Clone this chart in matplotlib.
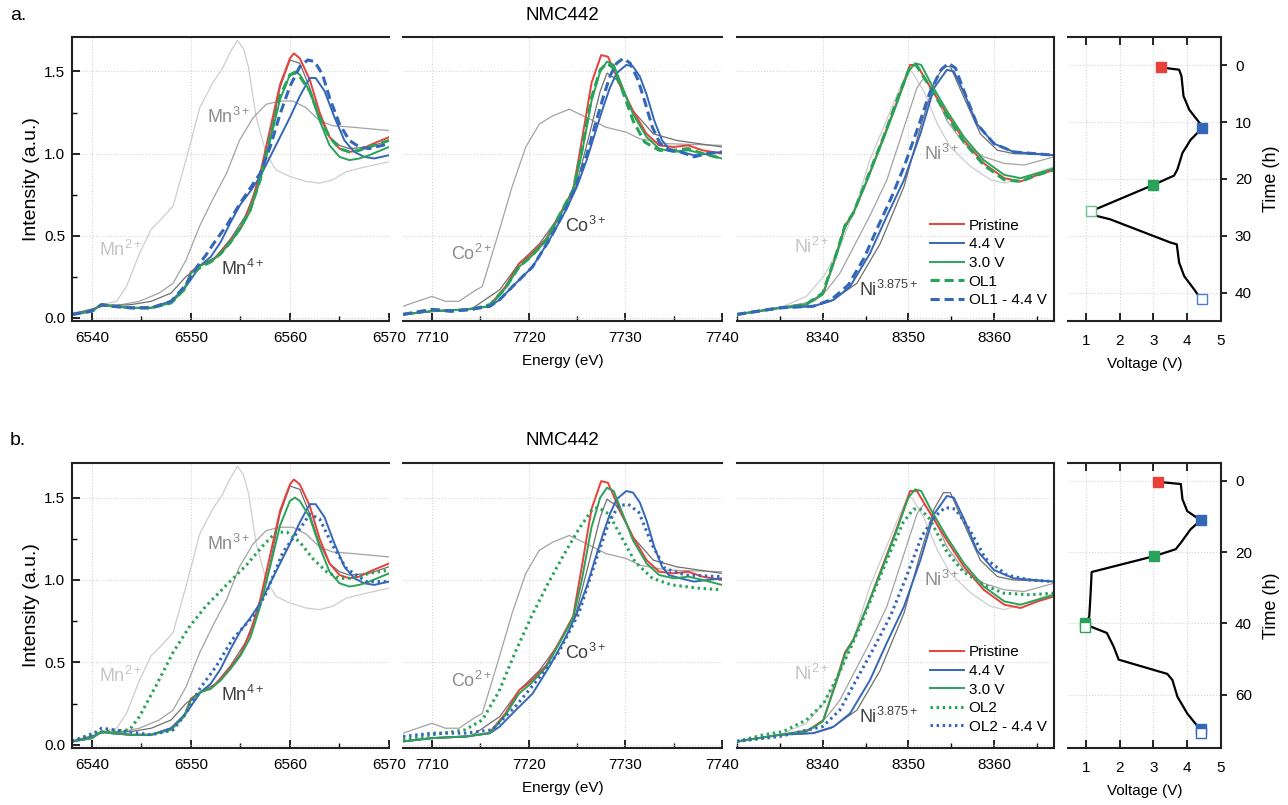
import matplotlib.pyplot as plt
from matplotlib.ticker import MultipleLocator

plt.rcParams['font.family'] = ['Liberation Sans', 'DejaVu Sans']
plt.rcParams['mathtext.fontset'] = 'custom'
plt.rcParams['mathtext.rm'] = 'Liberation Sans'
plt.rcParams['mathtext.it'] = 'Liberation Sans'

# ---------------- Mn K-edge (energy eV, intensity) ----------------
mn_ref2 = [(6538, 0.03), (6540, 0.05), (6541, 0.08), (6542.5, 0.10), (6543.5, 0.19), (6544.8, 0.39),
           (6546, 0.54), (6547, 0.60), (6548.2, 0.68), (6549.5, 0.96), (6550.9, 1.28), (6552.2, 1.43),
           (6553.2, 1.52), (6553.9, 1.61), (6554.7, 1.69), (6555.3, 1.64), (6555.8, 1.53), (6556.6, 1.22),
           (6557.6, 1.00), (6558.6, 0.90), (6560, 0.86), (6561.6, 0.83), (6563, 0.82), (6564.3, 0.84),
           (6565.7, 0.89), (6567.7, 0.92), (6570, 0.95)]
mn_ref3 = [(6538, 0.02), (6540, 0.05), (6541, 0.08), (6543, 0.08), (6544.8, 0.10), (6546.8, 0.15),
           (6548.2, 0.21), (6549.5, 0.35), (6550.9, 0.56), (6552.2, 0.72), (6553.6, 0.88), (6554.9, 1.08),
           (6556.3, 1.22), (6557.6, 1.30), (6559, 1.32), (6560.3, 1.32), (6561.6, 1.28), (6563, 1.20),
           (6564.3, 1.17), (6566.4, 1.16), (6570, 1.14)]
mn_ref4 = [(6538, 0.02), (6541, 0.07), (6544, 0.08), (6546, 0.10), (6548, 0.15), (6549.5, 0.25),
           (6551, 0.32), (6552.5, 0.37), (6554, 0.48), (6555.5, 0.62), (6557, 0.85), (6558, 1.10),
           (6559, 1.40), (6560, 1.57), (6561, 1.55), (6562, 1.40), (6563, 1.22), (6564, 1.10),
           (6565, 1.05), (6566, 1.03), (6568, 1.04), (6570, 1.08)]
mn_pristine = [(6538, 0.02), (6540, 0.04), (6541, 0.08), (6542, 0.07), (6544, 0.06), (6546, 0.06),
               (6548, 0.10), (6549.3, 0.17), (6550, 0.28), (6551, 0.32), (6552, 0.34), (6553, 0.40),
               (6554, 0.47), (6555, 0.55), (6556, 0.68), (6557, 0.88), (6558, 1.15), (6559, 1.42),
               (6560, 1.58), (6560.4, 1.61), (6561, 1.58), (6562, 1.45), (6563, 1.25), (6564, 1.10),
               (6565, 1.03), (6566, 1.01), (6567, 1.02), (6568, 1.05), (6570, 1.10)]
mn_44v = [(6538, 0.02), (6540, 0.04), (6541, 0.08), (6542, 0.07), (6544, 0.06), (6546, 0.06),
          (6548, 0.10), (6549.5, 0.19), (6551, 0.32), (6552, 0.37), (6553, 0.46), (6554, 0.58),
          (6555, 0.69), (6556, 0.77), (6557, 0.86), (6558, 0.98), (6559, 1.10), (6560, 1.22),
          (6561, 1.35), (6562, 1.46), (6562.6, 1.46), (6563.5, 1.38), (6564.5, 1.22), (6565.5, 1.08),
          (6566.5, 1.01), (6567.5, 0.98), (6568.5, 0.97), (6570, 0.99)]
mn_30v = [(6538, 0.02), (6540, 0.04), (6541, 0.08), (6542, 0.07), (6544, 0.06), (6546, 0.06),
          (6548, 0.09), (6549.3, 0.17), (6550, 0.27), (6551, 0.32), (6552, 0.34), (6553, 0.39),
          (6554, 0.46), (6555, 0.54), (6556, 0.65), (6557, 0.84), (6558, 1.08), (6559, 1.33),
          (6560, 1.48), (6560.5, 1.50), (6561, 1.48), (6562, 1.38), (6563, 1.20), (6564, 1.05),
          (6565, 0.98), (6566, 0.96), (6567, 0.97), (6568, 0.99), (6570, 1.04)]
mn_ol1 = [(6538, 0.02), (6540, 0.04), (6541, 0.08), (6542, 0.07), (6544, 0.06), (6546, 0.06),
          (6548, 0.09), (6549.3, 0.17), (6550, 0.26), (6551, 0.31), (6552, 0.34), (6553, 0.39),
          (6554, 0.46), (6555, 0.55), (6556, 0.66), (6557, 0.84), (6558, 1.10), (6559, 1.35),
          (6560, 1.48), (6560.5, 1.49), (6561, 1.47), (6562, 1.38), (6563, 1.22), (6564, 1.10),
          (6565, 1.03), (6566, 1.01), (6567, 1.02), (6568, 1.04), (6570, 1.08)]
mn_ol1_44 = [(6538, 0.02), (6540, 0.04), (6541, 0.08), (6542, 0.07), (6544, 0.06), (6546, 0.06),
             (6548, 0.10), (6549.5, 0.20), (6550.5, 0.30), (6551.5, 0.38), (6552.5, 0.47), (6553.6, 0.56),
             (6555, 0.70), (6557, 0.88), (6558, 1.04), (6559, 1.24), (6560, 1.41), (6561, 1.53),
             (6561.8, 1.57), (6562.5, 1.56), (6563.3, 1.48), (6564, 1.34), (6565, 1.18), (6566, 1.08),
             (6567, 1.04), (6568, 1.03), (6570, 1.06)]
mn_ol2 = [(6538, 0.02), (6540.1, 0.07), (6541.4, 0.08), (6543.8, 0.09), (6544.8, 0.17), (6546.5, 0.36),
          (6548.2, 0.56), (6549.9, 0.72), (6551.5, 0.84), (6553.6, 0.97), (6555.6, 1.09), (6557.3, 1.21),
          (6558.6, 1.29), (6559.7, 1.29), (6561, 1.23), (6562.3, 1.13), (6563.7, 1.05), (6565, 1.01),
          (6566.4, 1.01), (6568, 1.04), (6570, 1.06)]
mn_ol2_44 = [(6538, 0.02), (6540, 0.06), (6541, 0.10), (6543.5, 0.08), (6546, 0.06), (6548.2, 0.09),
             (6549.5, 0.19), (6550.9, 0.34), (6552.6, 0.48), (6554.2, 0.64), (6556.3, 0.78), (6557.6, 0.92),
             (6559.3, 1.17), (6561, 1.31), (6562, 1.40), (6563, 1.37), (6564.3, 1.21), (6565.7, 1.07),
             (6567.7, 0.99), (6570, 0.99)]

# ---------------- Co K-edge ----------------
co_ref2 = [(7707, 0.07), (7710, 0.13), (7711.4, 0.10), (7712.8, 0.10), (7714.3, 0.16), (7715.2, 0.19),
           (7716.9, 0.52), (7718.3, 0.80), (7719.7, 1.04), (7721.1, 1.18), (7722.5, 1.23), (7724.2, 1.27),
           (7726, 1.22), (7728, 1.16), (7730.1, 1.13), (7731.5, 1.09), (7734.3, 1.06), (7740, 1.05)]
co_ref3 = [(7707, 0.02), (7710, 0.04), (7714, 0.05), (7717, 0.17), (7719, 0.33), (7721.1, 0.45),
           (7723.2, 0.62), (7724.9, 0.80), (7726.3, 1.12), (7727.4, 1.38), (7728.1, 1.49), (7729.1, 1.45),
           (7730.8, 1.26), (7732.9, 1.12), (7735.3, 1.08), (7740, 1.04)]
co_pristine = [(7707, 0.02), (7710, 0.04), (7713.5, 0.05), (7715.9, 0.07), (7717.6, 0.19), (7719, 0.33),
               (7720.1, 0.38), (7721.8, 0.48), (7723.5, 0.66), (7724.6, 0.78), (7725.5, 1.08), (7726.5, 1.43),
               (7727.5, 1.60), (7728.2, 1.59), (7729.4, 1.43), (7730.8, 1.26), (7732.2, 1.12), (7733.5, 1.05),
               (7735, 1.04), (7736.5, 1.05), (7738, 1.02), (7740, 1.00)]
co_44v = [(7707, 0.02), (7710, 0.04), (7713.5, 0.05), (7716, 0.07), (7717, 0.11), (7718.5, 0.20),
          (7720.4, 0.31), (7722.2, 0.48), (7723.9, 0.66), (7725, 0.80), (7726, 0.96), (7727, 1.15),
          (7727.7, 1.28), (7728.4, 1.40), (7729.1, 1.49), (7730.1, 1.54), (7730.8, 1.53), (7731.5, 1.47),
          (7732.2, 1.36), (7733, 1.20), (7733.8, 1.08), (7734.5, 1.03), (7735.7, 1.01), (7737.1, 0.99),
          (7738.5, 1.00), (7740, 1.01)]
co_30v = [(7707, 0.02), (7710, 0.04), (7713.5, 0.05), (7716, 0.07), (7717.6, 0.18), (7719, 0.31),
          (7720.2, 0.37), (7721.8, 0.47), (7723.5, 0.65), (7724.6, 0.77), (7725.5, 1.00), (7726.5, 1.32),
          (7727.4, 1.50), (7728.1, 1.56), (7728.8, 1.54), (7729.6, 1.42), (7730.8, 1.24), (7732.2, 1.10),
          (7733.5, 1.03), (7735, 1.01), (7736.5, 1.02), (7738, 1.00), (7740, 0.97)]
co_ol1 = [(7707, 0.02), (7710, 0.05), (7712, 0.04), (7714, 0.05), (7716, 0.08), (7717.6, 0.18),
          (7719, 0.31), (7720.2, 0.37), (7721.8, 0.47), (7723.5, 0.66), (7724.6, 0.78), (7725.5, 1.02),
          (7726.5, 1.34), (7727.4, 1.51), (7728.1, 1.55), (7728.8, 1.52), (7729.6, 1.40), (7730.8, 1.20),
          (7732, 1.07), (7733.5, 1.02), (7735, 1.02), (7736.5, 1.03), (7738, 1.00), (7740, 0.97)]
co_ol1_44 = [(7707, 0.02), (7709, 0.04), (7710, 0.05), (7712, 0.04), (7714, 0.05), (7716, 0.07),
             (7717, 0.11), (7718.5, 0.20), (7720.4, 0.31), (7722.2, 0.48), (7723.9, 0.67), (7725, 0.82),
             (7726, 0.99), (7727, 1.20), (7727.7, 1.34), (7728.4, 1.47), (7729.1, 1.55), (7729.8, 1.58),
             (7730.5, 1.55), (7731.3, 1.45), (7732, 1.32), (7732.8, 1.16), (7733.6, 1.06), (7734.5, 1.02),
             (7735.7, 1.01), (7737.1, 0.98), (7738.5, 1.00), (7740, 1.01)]
co_ol2 = [(7707, 0.03), (7710, 0.06), (7713.4, 0.09), (7715.2, 0.15), (7716.9, 0.32), (7718.6, 0.56),
          (7720.3, 0.78), (7722.1, 0.99), (7723.8, 1.17), (7725.2, 1.31), (7726.6, 1.43), (7727.2, 1.44),
          (7728.3, 1.40), (7729.7, 1.25), (7731, 1.11), (7732.8, 1.01), (7734.8, 0.97), (7737.6, 0.95),
          (7740, 0.94)]
co_ol2_44 = [(7707, 0.05), (7710, 0.07), (7713.4, 0.07), (7716.2, 0.09), (7718.6, 0.23), (7721, 0.40),
             (7723.1, 0.56), (7725.2, 0.80), (7726.9, 1.11), (7728.3, 1.35), (7729.3, 1.45), (7730.3, 1.46),
             (7731.4, 1.41), (7732.8, 1.21), (7734.1, 1.07), (7736.2, 1.03), (7740, 1.02)]

# ---------------- Ni K-edge ----------------
ni_ref2 = [(8330, 0.02), (8335, 0.06), (8338.1, 0.13), (8340.1, 0.25), (8342, 0.43), (8343.6, 0.64),
           (8345.5, 0.96), (8347.1, 1.16), (8348.7, 1.36), (8349.8, 1.49), (8350.4, 1.50), (8351.8, 1.38),
           (8353.4, 1.18), (8354.9, 1.04), (8357.3, 0.92), (8359.6, 0.84), (8361.2, 0.82), (8363.1, 0.85),
           (8367, 0.92)]
ni_ref3 = [(8330, 0.02), (8335, 0.06), (8339, 0.10), (8340.5, 0.17), (8342, 0.27), (8344, 0.47),
           (8345.5, 0.62), (8347.5, 0.84), (8349.5, 1.16), (8351, 1.40), (8351.8, 1.46), (8353, 1.38),
           (8354.5, 1.20), (8356.5, 1.06), (8358.8, 0.98), (8361.2, 0.94), (8363.5, 0.93), (8367, 0.98)]
ni_ref38 = [(8330, 0.02), (8335, 0.06), (8339, 0.07), (8341, 0.10), (8344, 0.21), (8346.7, 0.45),
            (8349.5, 0.80), (8351.4, 1.16), (8353, 1.43), (8354.1, 1.53), (8354.9, 1.53), (8356.5, 1.34),
            (8358.4, 1.12), (8360.4, 1.02), (8362.3, 1.00), (8367, 0.99)]
ni_pristine = [(8330, 0.02), (8335, 0.06), (8338.1, 0.08), (8340.1, 0.15), (8341.6, 0.39), (8342.6, 0.56),
               (8343.6, 0.64), (8345.2, 0.84), (8347.1, 1.10), (8348.7, 1.32), (8350.2, 1.54), (8351, 1.54),
               (8352.6, 1.40), (8354.5, 1.24), (8356.5, 1.08), (8358.8, 0.94), (8361.2, 0.85), (8363.1, 0.83),
               (8365.1, 0.87), (8367, 0.90)]
ni_44v = [(8330, 0.02), (8335, 0.06), (8338.9, 0.07), (8341.3, 0.11), (8343.2, 0.19), (8345.5, 0.39),
          (8347.5, 0.62), (8349.5, 0.84), (8351.4, 1.12), (8353, 1.40), (8354.5, 1.51), (8355.3, 1.50),
          (8356.5, 1.37), (8358, 1.18), (8360, 1.06), (8362.3, 1.01), (8367, 0.99)]
ni_30v = [(8330, 0.02), (8335, 0.06), (8338, 0.08), (8340, 0.14), (8341.6, 0.38), (8342.6, 0.55),
          (8343.6, 0.64), (8345.2, 0.84), (8347.1, 1.09), (8348.7, 1.31), (8350, 1.50), (8350.8, 1.55),
          (8351.5, 1.54), (8352.6, 1.43), (8354.5, 1.26), (8356.5, 1.10), (8358.8, 0.96), (8361.2, 0.87),
          (8363.1, 0.85), (8365.1, 0.88), (8367, 0.91)]
ni_ol1 = [(8330, 0.02), (8335, 0.06), (8338, 0.08), (8340, 0.15), (8341.6, 0.39), (8342.6, 0.56),
          (8343.6, 0.64), (8345.2, 0.85), (8347.1, 1.10), (8348.7, 1.33), (8350.2, 1.53), (8350.9, 1.54),
          (8352.6, 1.40), (8354.5, 1.23), (8356.5, 1.07), (8358.8, 0.93), (8361.2, 0.84), (8363.1, 0.83),
          (8365.1, 0.87), (8367, 0.90)]
ni_ol1_44 = [(8330, 0.02), (8335, 0.06), (8338.9, 0.07), (8341, 0.11), (8343, 0.20), (8344.8, 0.36),
             (8346.5, 0.56), (8348, 0.73), (8349.5, 0.92), (8351, 1.14), (8352.5, 1.37), (8353.8, 1.51),
             (8354.7, 1.55), (8355.5, 1.52), (8356.5, 1.38), (8358, 1.18), (8360, 1.06), (8362.3, 1.01),
             (8367, 0.99)]
ni_ol2 = [(8330, 0.02), (8333.1, 0.06), (8335.4, 0.08), (8338.1, 0.15), (8340.1, 0.25), (8341.6, 0.40),
          (8343.2, 0.58), (8344.7, 0.76), (8346.3, 0.97), (8347.9, 1.17), (8349.4, 1.35), (8350.6, 1.43),
          (8351.4, 1.43), (8352.5, 1.37), (8354.5, 1.17), (8356.4, 1.05), (8358.8, 0.97), (8361.1, 0.92),
          (8364.2, 0.91), (8367, 0.92)]
ni_ol2_44 = [(8330, 0.02), (8335, 0.05), (8340, 0.11), (8342, 0.21), (8344, 0.40), (8345.9, 0.58),
             (8347.9, 0.78), (8349.7, 1.01), (8351.6, 1.27), (8353.2, 1.39), (8354.3, 1.44), (8355.5, 1.43),
             (8357.1, 1.31), (8359, 1.13), (8361.5, 1.03), (8364.2, 1.00), (8367, 0.99)]

# ---------------- voltage profiles (voltage V, time h) ----------------
volt_a = [(3.21, 0.35), (3.76, 0.76), (3.83, 1.9), (3.89, 5.4), (4.06, 7.8), (4.40, 10.4), (4.45, 11.0),
          (4.10, 13.1), (3.86, 15.4), (3.71, 18.3), (3.61, 19.4), (3.01, 21.0), (1.14, 25.7), (1.32, 26.5),
          (1.72, 27.1), (3.51, 31.2), (3.69, 31.5), (3.76, 34.7), (3.91, 37.1), (4.20, 39.4), (4.40, 41.1)]
volt_b = [(3.14, 0.3), (3.81, 0.9), (3.86, 5.2), (4.00, 8.5), (4.40, 11.1), (4.10, 13.6), (3.81, 17.4),
          (3.66, 19.2), (3.04, 21.1), (1.17, 25.6), (1.14, 31.5), (1.10, 38.0), (1.00, 40.4), (1.62, 42.7),
          (1.82, 46.5), (1.97, 50.2), (3.41, 54.2), (3.56, 55.9), (3.71, 60.6), (4.00, 65.3), (4.40, 70.0)]
# filled markers (V, t) and open markers (V, t)
marks_a = [(3.22, 0.3), (4.45, 11.0), (3.0, 21.0)]
open_a = [(1.14, 25.7), (4.43, 41.2)]
marks_b = [(3.14, 0.2), (4.42, 11.1), (3.02, 21.0), (0.97, 40.0), (4.42, 69.6)]
open_b = [(0.97, 41.0), (4.42, 70.8)]

RED, BLUE, GREEN = '#e8403a', '#3567b8', '#2aa35a'
LREF, MREF, DREF = '#cdcdcd', '#a3a3a3', '#6f6f6f'
W, H = 1288, 805

fig = plt.figure(figsize=(W / 100, H / 100), dpi=100)


def xy(pts):
    return [p[0] for p in pts], [p[1] for p in pts]


def style_axes(ax, spines):
    for s in ['left', 'right', 'top', 'bottom']:
        ax.spines[s].set_visible(s in spines)
        ax.spines[s].set_linewidth(1.5)
        ax.spines[s].set_color('#222222')
    ax.grid(True, ls=':', color='#d4d4d4', lw=0.8)
    ax.set_axisbelow(True)


def spectrum_panel(rect, refs, main, ol, ol_ls, labels, xlim, xticks, first=False, last=False):
    ax = fig.add_axes(rect)
    for pts, c in refs:
        ax.plot(*xy(pts), color=c, lw=0.9)
    ax.plot(*xy(main[0]), color=RED, lw=1.4, label='Pristine')
    ax.plot(*xy(main[1]), color=BLUE, lw=1.4, label='4.4 V')
    ax.plot(*xy(main[2]), color=GREEN, lw=1.4, label='3.0 V')
    ax.plot(*xy(ol[0]), color=GREEN, lw=2.2, ls=ol_ls, label=ol[2])
    ax.plot(*xy(ol[1]), color=BLUE, lw=2.2, ls=ol_ls, label=ol[3])
    for (tx, ty, s, c) in labels:
        ax.text(tx, ty, s, color=c, fontsize=13, ha='left', va='center')
    ax.set_xlim(*xlim)
    ax.set_ylim(-0.02, 1.71)
    ax.set_xticks(xticks)
    ax.xaxis.set_minor_locator(MultipleLocator(5))
    ax.yaxis.set_major_locator(MultipleLocator(0.5))
    ax.tick_params(axis='x', which='major', direction='in', length=6, width=1.2, labelsize=11, pad=7)
    ax.tick_params(axis='x', which='minor', direction='in', length=3.5, width=1.0)
    spines = ['top', 'bottom']
    if first:
        spines.append('left')
        ax.yaxis.set_minor_locator(MultipleLocator(0.25))
        ax.tick_params(axis='y', which='major', direction='in', length=6, width=1.2, labelsize=11, pad=5)
        ax.tick_params(axis='y', which='minor', direction='in', length=3.5, width=1.0)
        ax.set_ylabel('Intensity (a.u.)', fontsize=14, labelpad=3)
    else:
        ax.tick_params(axis='y', which='both', left=False, labelleft=False)
    if last:
        spines.append('right')
    style_axes(ax, spines)
    return ax


def volt_panel(rect, curve, filled, opened, open_cols, tlim, tticks):
    ax = fig.add_axes(rect)
    ax.plot(*xy(curve), color='black', lw=1.6, zorder=3)
    for (v, t), c in zip(filled, [RED, BLUE, GREEN, GREEN, BLUE]):
        ax.plot(v, t, 's', color=c, ms=6.5, zorder=4)
    for (v, t), c in zip(opened, open_cols):
        ax.plot(v, t, 's', mfc='white', mec=c, mew=1.0, ms=6.5, zorder=5)
    ax.set_xlim(0.47, 5.0)
    ax.set_ylim(*tlim)
    ax.set_xticks([1, 2, 3, 4, 5])
    ax.set_yticks(tticks)
    ax.yaxis.tick_right()
    ax.yaxis.set_label_position('right')
    ax.tick_params(axis='x', direction='in', length=6, width=1.2, top=True, bottom=True, labelsize=11, pad=9)
    ax.tick_params(axis='y', direction='out', length=4, width=1.2, labelsize=11, pad=6)
    ax.set_xlabel('Voltage (V)', fontsize=11, labelpad=7)
    ax.set_ylabel('Time (h)', fontsize=13, labelpad=8)
    style_axes(ax, ['top', 'bottom', 'right'])
    return ax


cols = {'mn': (72, 389), 'co': (403, 722), 'ni': (737, 1054), 'v': (1068, 1221)}
rows = {'a': (37, 321), 'b': (463, 748)}


def rect(col, row):
    (x0, x1), (y0, y1) = cols[col], rows[row]
    return [x0 / W, 1 - y1 / H, (x1 - x0) / W, (y1 - y0) / H]


mn_refs = [(mn_ref2, LREF), (mn_ref3, MREF), (mn_ref4, DREF)]
co_refs = [(co_ref2, MREF), (co_ref3, DREF)]
ni_refs = [(ni_ref2, LREF), (ni_ref3, MREF), (ni_ref38, DREF)]

for row, ols, ls, names in [('a', (mn_ol1, mn_ol1_44, co_ol1, co_ol1_44, ni_ol1, ni_ol1_44), (0, (3, 1.6)), ('OL1', 'OL1 - 4.4 V')),
                            ('b', (mn_ol2, mn_ol2_44, co_ol2, co_ol2_44, ni_ol2, ni_ol2_44), (0, (0.8, 1.2)), ('OL2', 'OL2 - 4.4 V'))]:
    dy = 0.0 if row == 'a' else 0.01
    spectrum_panel(rect('mn', row), mn_refs, (mn_pristine, mn_44v, mn_30v), (ols[0], ols[1]) + names, ls,
                   [(6540.7, 0.41 + dy, r'Mn$^{2+}$', '#c4c4c4'), (6551.6, 1.22, r'Mn$^{3+}$', '#8c8c8c'),
                    (6553.0, 0.30, r'Mn$^{4+}$', '#404040')],
                   (6538, 6570), [6540, 6550, 6560, 6570], first=True)
    ax_co = spectrum_panel(rect('co', row), co_refs, (co_pristine, co_44v, co_30v), (ols[2], ols[3]) + names, ls,
                           [(7712.0, 0.39, r'Co$^{2+}$', '#8c8c8c'), (7723.8, 0.56, r'Co$^{3+}$', '#404040')],
                           (7707, 7740), [7710, 7720, 7730, 7740])
    ax_co.set_xlabel('Energy (eV)', fontsize=11, labelpad=7)
    ax_ni = spectrum_panel(rect('ni', row), ni_refs, (ni_pristine, ni_44v, ni_30v), (ols[4], ols[5]) + names, ls,
                           [(8336.6, 0.43, r'Ni$^{2+}$', '#c4c4c4'), (8351.8, 1.0, r'Ni$^{3+}$', '#8c8c8c'),
                            (8344.2, 0.17, r'Ni$^{3.875+}$', '#404040')],
                           (8330, 8367), [8340, 8350, 8360], last=True)
    ax_ni.legend(loc='upper left', bbox_to_anchor=(0.61, 0.36), frameon=False, fontsize=11,
                 handlelength=2.2, handletextpad=0.3, labelspacing=0.3, borderpad=0, borderaxespad=0)
    if row == 'a':
        volt_panel(rect('v', row), volt_a, marks_a, open_a, ['#6cc08e', '#4a7fd0'], (45, -5), [0, 10, 20, 30, 40])
    else:
        volt_panel(rect('v', row), volt_b, marks_b, open_b, [GREEN, BLUE], (75, -5), [0, 20, 40, 60])
    ty = 15 if row == 'a' else 440
    fig.text(10 / W, 1 - ty / H, row + '.', fontsize=14, va='center', ha='left')
    fig.text(562 / W, 1 - ty / H, 'NMC442', fontsize=13.5, va='center', ha='center')

fig.savefig('out.png', dpi=100)
